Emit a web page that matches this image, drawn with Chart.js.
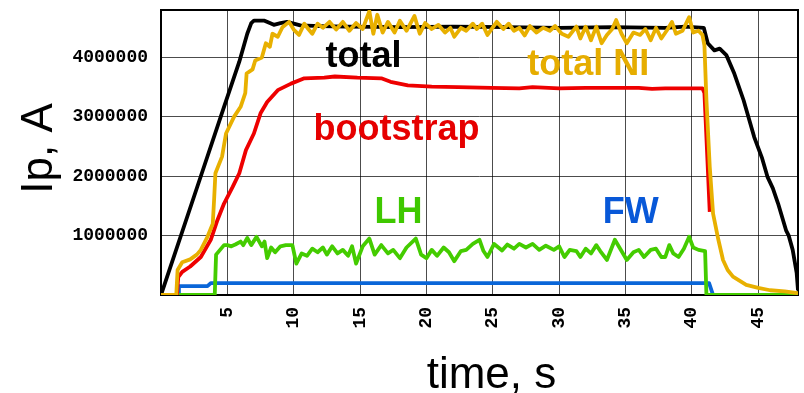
<!DOCTYPE html>
<html>
<head>
<meta charset="utf-8">
<script src="https://cdn.jsdelivr.net/npm/chart.js@4/dist/chart.umd.min.js"></script>
<style>
  html, body { margin: 0; padding: 0; background: #fff; }
  #wrap { width: 804px; height: 393px; }
</style>
</head>
<body>
<div id="wrap"><canvas id="c" width="804" height="393"></canvas></div>
<script>
// Plasma current components over the discharge (values in MA, time in s)
const MA = 1e6;

// total non-inductive current
const tTotalNI = [0, 1.15, 1.25, 1.6, 2.2, 2.7, 3.0, 3.5, 3.9, 4.0, 4.1, 4.6, 4.9, 5.5, 6.0, 6.35, 6.45, 6.9, 7.1, 7.6, 7.9, 8.2, 8.4, 8.8, 9.15, 9.65,
  10.0, 10.4, 10.8, 11.1, 11.4, 11.8, 12.2, 12.7, 13.2, 13.7, 14.2, 14.7, 15.2, 15.7, 16.0, 16.3, 16.7, 17.1, 17.6, 18.0, 18.5, 19.1, 19.5, 19.9,
  20.4, 20.9, 21.4, 21.8, 22.1, 22.6, 23.0, 23.5, 23.8, 24.2, 24.6, 25.3, 25.8, 26.2, 26.6, 27.0, 27.4, 27.8, 28.3, 28.8, 29.3, 29.7,
  30.2, 30.7, 31.3, 31.6, 32.0, 32.4, 32.8, 33.2, 33.6, 34.0, 34.3, 34.7, 35.1, 35.6, 36.1, 36.5, 36.9, 37.3, 37.7, 38.1, 38.5, 38.8,
  39.3, 39.8, 40.1, 40.5, 40.8, 40.95, 41.1, 41.35, 41.6, 42.0, 42.35, 42.7, 43.1, 44.1, 45.0, 45.9, 47.0, 48.0];
const totalNI = [0, 0, 0.42, 0.55, 0.6, 0.68, 0.76, 0.98, 1.2, 1.6, 2.05, 2.33, 2.72, 3.0, 3.17, 3.4, 3.73, 3.8, 3.95, 4.0, 4.24, 4.18, 4.4, 4.35, 4.51, 4.6,
  4.47, 4.38, 4.57, 4.48, 4.4, 4.57, 4.5, 4.6, 4.47, 4.6, 4.45, 4.58, 4.48, 4.78, 4.4, 4.72, 4.42, 4.6, 4.42, 4.62, 4.45, 4.7, 4.4, 4.58,
  4.48, 4.55, 4.42, 4.5, 4.35, 4.5, 4.45, 4.57, 4.48, 4.57, 4.38, 4.6, 4.48, 4.57, 4.45, 4.5, 4.37, 4.53, 4.42, 4.5, 4.45, 4.53,
  4.4, 4.35, 4.52, 4.32, 4.52, 4.29, 4.52, 4.24, 4.38, 4.48, 4.63, 4.4, 4.24, 4.42, 4.38, 4.48, 4.29, 4.5, 4.32, 4.45, 4.6, 4.4,
  4.45, 4.68, 4.42, 4.45, 4.38, 4.2, 3.28, 2.16, 1.37, 0.93, 0.59, 0.42, 0.31, 0.17, 0.12, 0.08, 0.06, 0.03];

// total plasma current
const tTotal = [0, 0.3, 3.0, 4.75, 5.9, 6.5, 6.8, 7.0, 7.8, 8.2, 8.5, 9.0, 9.5, 10.5, 12, 14, 18, 22, 26, 30, 34, 38, 39.5, 40.9,
  41.2, 41.7, 42.1, 42.6, 43.2, 43.9, 44.7, 45.3, 45.7, 46.1, 46.5, 47.1, 47.3, 47.6, 47.9, 48.0];
const total = [0, 0.2, 2.0, 3.17, 3.93, 4.4, 4.58, 4.62, 4.62, 4.58, 4.55, 4.58, 4.6, 4.54, 4.53, 4.52, 4.51, 4.52, 4.51, 4.5, 4.51, 4.5, 4.52, 4.5,
  4.24, 4.12, 4.15, 4.04, 3.73, 3.28, 2.66, 2.3, 1.99, 1.8, 1.54, 1.09, 1.0, 0.76, 0.37, 0.08];

// bootstrap current
const tBootstrap = [0, 1.2, 1.3, 1.6, 2.2, 3.0, 3.75, 4.25, 4.75, 5.4, 5.9, 6.4, 7.0, 7.5, 8.0, 8.8, 9.8, 10.8, 12.3, 13.1, 14.8, 16.6, 17.3, 18.6,
  20.4, 22.4, 24.9, 27, 28, 30, 32, 34, 36, 37, 38, 40.8, 40.95, 41.15, 41.35];
const bootstrap = [0, 0, 0.3, 0.39, 0.48, 0.64, 0.93, 1.26, 1.54, 1.82, 2.05, 2.44, 2.72, 3.06, 3.25, 3.45, 3.56, 3.65, 3.66, 3.68, 3.66, 3.65, 3.59, 3.53,
  3.51, 3.5, 3.49, 3.48, 3.5, 3.48, 3.49, 3.49, 3.49, 3.47, 3.48, 3.48, 3.4, 2.4, 1.4];

// lower hybrid driven current
const tLH = [0, 4.05, 4.15, 4.75, 5.0, 5.3, 5.6, 6.0, 6.2, 6.5, 6.8, 7.2, 7.6, 7.8, 8.0, 8.3, 8.6, 9.0, 9.4, 9.9, 10.2, 10.6, 11.0, 11.4, 11.8,
  12.2, 12.5, 12.9, 13.3, 13.7, 14.1, 14.4, 14.7, 15.2, 15.7, 16.1, 16.6, 17.1, 17.5, 18.0, 18.5, 19.2, 19.6, 20.0, 20.4, 20.8, 21.3, 21.7,
  22.1, 22.6, 23.0, 23.5, 24.0, 24.3, 24.6, 25.1, 25.7, 26.1, 26.6, 27.0, 27.5, 28.0, 28.5, 29.0, 29.6, 30.0, 30.4, 30.8, 31.3, 31.6,
  32.0, 32.4, 32.8, 33.1, 33.6, 34.2, 34.6, 35.1, 35.6, 36.0, 36.4, 36.9, 37.3, 37.7, 38.0, 38.3, 38.6, 39.0, 39.4, 39.8, 40.1, 40.5,
  41.0, 41.1, 48];
const lh = [0, 0, 0.68, 0.84, 0.84, 0.82, 0.85, 0.9, 0.84, 0.96, 0.84, 0.98, 0.82, 0.9, 0.62, 0.8, 0.72, 0.82, 0.84, 0.84, 0.53, 0.7, 0.66, 0.78, 0.72,
  0.8, 0.68, 0.82, 0.7, 0.76, 0.66, 0.82, 0.53, 0.82, 0.95, 0.68, 0.84, 0.7, 0.76, 0.62, 0.8, 0.95, 0.68, 0.62, 0.76, 0.66, 0.8, 0.72,
  0.57, 0.74, 0.76, 0.86, 0.93, 0.74, 0.64, 0.86, 0.75, 0.85, 0.78, 0.86, 0.8, 0.86, 0.76, 0.83, 0.76, 0.82, 0.64, 0.76, 0.74, 0.64,
  0.78, 0.7, 0.84, 0.74, 0.59, 0.93, 0.78, 0.59, 0.72, 0.76, 0.64, 0.76, 0.78, 0.64, 0.64, 0.84, 0.7, 0.64, 0.78, 0.98, 0.8, 0.76,
  0.74, 0, 0];

// fast wave driven current
const tFW = [0, 1.3, 1.35, 3.5, 3.75, 41.3, 41.6, 48];
const fw = [0, 0, 0.15, 0.15, 0.2, 0.2, 0, 0];

// axis ticks
const xTickValues = [5, 10, 15, 20, 25, 30, 35, 40, 45];
const yTickValues = [1000000, 2000000, 3000000, 4000000];

const points = (ts, vs) => ts.map((t, i) => ({ x: t, y: vs[i] * MA }));

// curve names written inside the plot, anchored in data coordinates
const curveLabels = [
  { text: 'total',     t: 12.39, v: 3.84, color: '#000000' },
  { text: 'total NI',  t: 27.6,  v: 3.70, color: '#e6ad00' },
  { text: 'bootstrap', t: 11.49, v: 2.61, color: '#e60000' },
  { text: 'LH',        t: 16.09, v: 1.21, color: '#3fc800' },
  { text: 'FW',        t: 33.28, v: 1.21, color: '#0858d8' }
];

const decorations = {
  id: 'decorations',
  beforeDatasetsDraw(chart) {
    const { ctx, chartArea: a } = chart;
    ctx.save();
    ctx.strokeStyle = '#000';
    ctx.lineWidth = 2;
    ctx.strokeRect(a.left, a.top, a.right - a.left, a.bottom - a.top);
    ctx.restore();
  },
  afterDatasetsDraw(chart) {
    const { ctx, chartArea: a, scales: { x, y } } = chart;
    ctx.save();
    ctx.textAlign = 'left';
    ctx.textBaseline = 'alphabetic';
    ctx.font = 'bold 36px "Liberation Sans", Arial, sans-serif';
    curveLabels.forEach(l => {
      ctx.fillStyle = l.color;
      ctx.fillText(l.text, x.getPixelForValue(l.t), y.getPixelForValue(l.v * MA));
    });
    // axis titles
    ctx.fillStyle = '#000';
    ctx.font = '44px "Liberation Sans", Arial, sans-serif';
    ctx.textAlign = 'center';
    ctx.fillText('time, s', (a.left + a.right) / 2 + 12, chart.height - 5);
    ctx.translate(a.left - 109, (a.top + a.bottom) / 2 - 4);
    ctx.rotate(-Math.PI / 2);
    ctx.fillText('Ip, A', 0, 0);
    ctx.restore();
  }
};

const line = (label, data, color) => ({
  label, data, borderColor: color, backgroundColor: color,
  borderWidth: 3.8, pointRadius: 0, tension: 0, fill: false,
  borderJoinStyle: 'round', borderCapStyle: 'butt'
});

new Chart(document.getElementById('c'), {
  type: 'line',
  data: {
    datasets: [
      line('total NI', points(tTotalNI, totalNI), '#e8b000'),
      line('total', points(tTotal, total), '#000000'),
      line('bootstrap', points(tBootstrap, bootstrap), '#ee0000'),
      line('LH', points(tLH, lh), '#44cc00'),
      line('FW', points(tFW, fw), '#0a66d8')
    ]
  },
  options: {
    responsive: false,
    animation: false,
    devicePixelRatio: 1,
    layout: { padding: { left: 0, top: 10, right: 6, bottom: 0 } },
    plugins: { legend: { display: false }, tooltip: { enabled: false } },
    scales: {
      x: {
        type: 'linear', min: 0, max: 48,
        afterFit: s => { s.height = 98; s.paddingLeft = 0; s.paddingRight = 0; },
        afterBuildTicks: s => { s.ticks = xTickValues.map(v => ({ value: v })); },
        grid: { color: 'rgba(0,0,0,0.7)', lineWidth: 1, drawTicks: false },
        border: { display: false },
        ticks: {
          minRotation: 90, maxRotation: 90, padding: 12, color: '#000',
          font: { family: '"Liberation Mono", "DejaVu Sans Mono", monospace', size: 18, weight: 'bold' },
          callback: v => String(v)
        }
      },
      y: {
        type: 'linear', min: 0, max: 4.8 * MA,
        afterFit: s => { s.width = 161; s.paddingTop = 0; s.paddingBottom = 0; },
        afterBuildTicks: s => { s.ticks = yTickValues.map(v => ({ value: v })); },
        grid: { color: 'rgba(0,0,0,0.7)', lineWidth: 1, drawTicks: false },
        border: { display: false },
        ticks: {
          padding: 13, color: '#000',
          font: { family: '"Liberation Mono", "DejaVu Sans Mono", monospace', size: 18, weight: 'bold' },
          callback: v => String(v)
        }
      }
    }
  },
  plugins: [decorations]
});
</script>
</body>
</html>
